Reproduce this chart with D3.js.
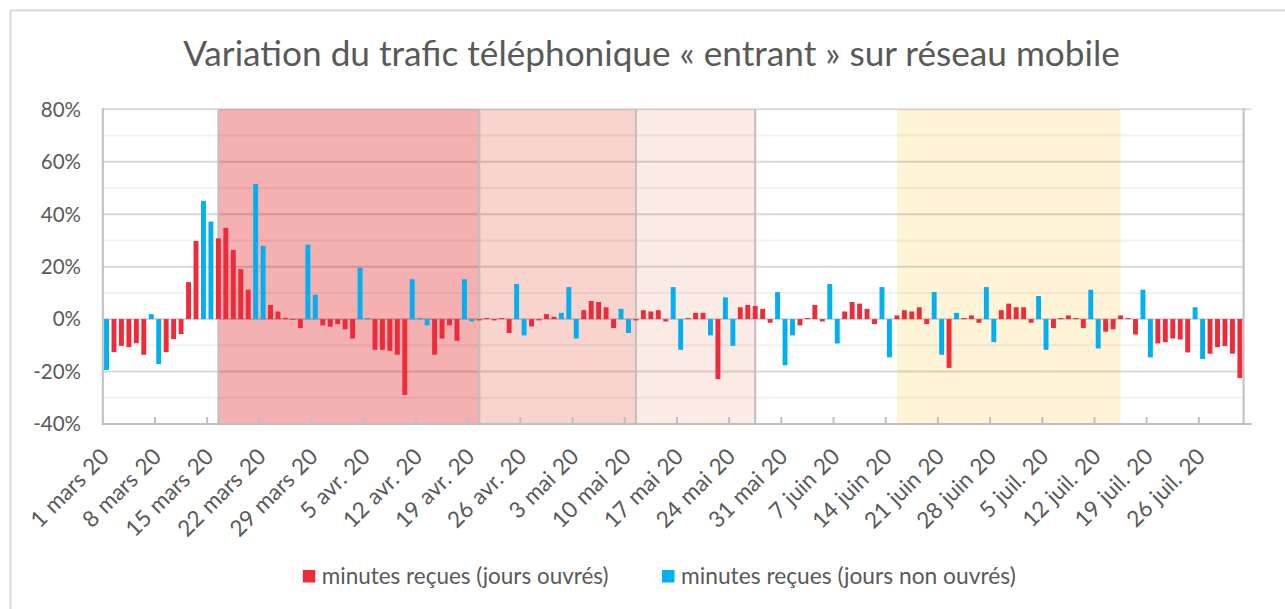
<!DOCTYPE html>
<html><head><meta charset="utf-8">
<script src="https://cdn.jsdelivr.net/npm/d3@7"></script>
<style>
body{margin:0;background:#fff;}
text{font-family:Lato,"Open Sans",sans-serif;fill:#595959;}
</style>
</head><body>
<svg id="chart" width="1285" height="609"></svg>
<script>
// ---- DATA ----
const titleText = "Variation du trafic téléphonique « entrant » sur réseau mobile";
const startDate = "2020-03-01";
const valuesMars = [-19.4,-12.6,-10.2,-10.7,-9.2,-13.6,1.9,-17.1,-12.6,-7.6,
  -5.7,14.1,29.8,45.1,37.2,30.8,34.8,26.4,19.1,11.2,
  51.5,27.9,5.4,2.9,0.5,-0.3,-3.4,28.4,9.3,-2.4,-2.9];
const valuesAvril = [-1.9,-3.9,-7.4,19.6,0.4,-11.7,-11.7,-12.1,-13.6,-28.9,
  15.2,0.4,-2.4,-13.6,-7.4,-2.4,-8.3,15.2,-0.9,-0.5,
  0.4,-0.5,0.4,-5.3,13.4,-6.2,-2.8,-0.5,1.9,0.9];
const valuesMai = [2.4,12.2,-7.4,3.4,6.9,6.5,4.5,-3.4,3.9,-5.3,
  -0.5,3.4,2.9,3.4,-0.9,12.2,-11.7,0.4,2.4,2.4,
  -6.2,-22.9,8.3,-10.2,4.5,5.4,5.0,3.9,-1.4,10.3,-17.6];
const valuesJuin = [-6.2,-2.4,0.4,5.4,-0.9,13.4,-9.3,2.9,6.5,5.9,
  3.9,-1.9,12.2,-14.6,1.4,3.4,2.9,4.5,-1.9,10.3,
  -13.6,-18.6,2.4,0.4,1.4,-1.4,12.2,-8.8,3.4,5.9];
const valuesJuillet = [4.5,4.5,-1.4,8.8,-11.7,-3.4,0.4,1.4,0.4,-3.4,
  11.2,-11.2,-4.8,-3.9,1.4,0.4,-5.9,11.2,-14.6,-9.3,
  -8.8,-7.4,-7.8,-12.7,4.5,-15.2,-13.2,-10.7,-10.3,-13.2,-22.5];
// weekdays counted as non-working, and weekdays shown as working despite holiday
const nonWorkingWeekdays = ["2020-04-13","2020-05-01","2020-05-21","2020-06-01","2020-06-23"];
const workingOverrides = ["2020-05-08","2020-07-14"];
const seriesNames = ["minutes reçues (jours ouvrés)","minutes reçues (jours non ouvrés)"];
const yTicks = [-40,-20,0,20,40,60,80];
const yMinorTicks = [-30,-10,10,30,50,70];
const xTickLabels = ["1 mars 20","8 mars 20","15 mars 20","22 mars 20","29 mars 20","5 avr. 20","12 avr. 20",
  "19 avr. 20","26 avr. 20","3 mai 20","10 mai 20","17 mai 20","24 mai 20","31 mai 20","7 juin 20",
  "14 juin 20","21 juin 20","28 juin 20","5 juil. 20","12 juil. 20","19 juil. 20","26 juil. 20"];
const periodStarts = ["2020-03-16","2020-04-20","2020-05-11","2020-06-15"];
const periodEnds   = ["2020-04-20","2020-05-11","2020-05-27","2020-07-15"];
const periodBorders = ["2020-03-16","2020-04-20","2020-05-11","2020-05-27"];

// ---- STYLE ----
const periodColors = ["#F5B1B1","#F9D3CD","#FBEBE5","#FFF4D8"];
const colWork = "#EE2B3B", colOff = "#00B0F0";
const W = 1285, H = 609;
const plot = {left:102.8, right:1243.6, top:109.3, bottom:424};

const values = [].concat(valuesMars, valuesAvril, valuesMai, valuesJuin, valuesJuillet);
const fmt = d3.utcFormat("%Y-%m-%d");
const parse = d3.utcParse("%Y-%m-%d");
const t0 = parse(startDate);
const data = values.map((v,i)=>{
  const d = d3.utcDay.offset(t0,i);
  const key = fmt(d);
  const dow = d.getUTCDay();
  let off = (dow===0||dow===6||nonWorkingWeekdays.includes(key));
  if (workingOverrides.includes(key)) off = false;
  return {i, key, v, off};
});
const idxOf = s => d3.utcDay.count(t0, parse(s));

const svg = d3.select("#chart");
svg.append("rect").attr("width",W).attr("height",H).attr("fill","#fff");
svg.append("rect").attr("x",10.5).attr("y",10.5).attr("width",1290).attr("height",620)
  .attr("fill","none").attr("stroke","#D9D9D9").attr("stroke-width",2);

const x = d3.scaleBand().domain(data.map(d=>d.i)).range([plot.left,plot.right])
  .paddingInner(0.34).paddingOuter(0.17);
const step = x.step();
const xc = i => x(i) + x.bandwidth()/2;
const y = d3.scaleLinear().domain([-40,80]).range([plot.bottom,plot.top]);

// period shading
const g = svg.append("g");
g.selectAll("rect.period").data(periodStarts).join("rect")
  .attr("x",(s)=>xc(idxOf(s)))
  .attr("width",(s,k)=>xc(idxOf(periodEnds[k]))-xc(idxOf(s)))
  .attr("y",plot.top).attr("height",plot.bottom-plot.top)
  .attr("fill",(s,k)=>periodColors[k]);

// gridlines
g.selectAll("line.minor").data(yMinorTicks).join("line")
  .attr("x1",plot.left).attr("x2",plot.right).attr("y1",d=>y(d)).attr("y2",d=>y(d))
  .attr("stroke","#000").attr("stroke-opacity",0.055).attr("stroke-width",2);
g.selectAll("line.major").data(yTicks.filter(d=>d>-40)).join("line")
  .attr("x1",plot.left).attr("x2",d=>d===80?plot.right+8:plot.right).attr("y1",d=>y(d)).attr("y2",d=>y(d))
  .attr("stroke","#000").attr("stroke-opacity",0.15).attr("stroke-width",2);

// period borders
g.selectAll("line.border").data(periodBorders).join("line")
  .attr("x1",s=>xc(idxOf(s))).attr("x2",s=>xc(idxOf(s)))
  .attr("y1",plot.top).attr("y2",plot.bottom)
  .attr("stroke","#BFBFBF").attr("stroke-width",2);

// bars
g.selectAll("rect.bar").data(data).join("rect")
  .attr("x",d=>x(d.i)).attr("width",x.bandwidth())
  .attr("y",d=>y(Math.max(0,d.v))).attr("height",d=>Math.abs(y(d.v)-y(0)))
  .attr("fill",d=>d.off?colOff:colWork);

// axes lines
const axisCol = "#BFBFBF";
svg.append("line").attr("x1",plot.left).attr("x2",plot.left).attr("y1",plot.top-1).attr("y2",plot.bottom+1)
  .attr("stroke",axisCol).attr("stroke-width",2);
svg.append("line").attr("x1",plot.right).attr("x2",plot.right).attr("y1",plot.top-1).attr("y2",plot.bottom+1)
  .attr("stroke",axisCol).attr("stroke-width",2);
svg.append("line").attr("x1",plot.left-1).attr("x2",plot.right+8).attr("y1",plot.bottom).attr("y2",plot.bottom)
  .attr("stroke",axisCol).attr("stroke-width",2);

// x ticks (weekly, at the left edge of each labelled day)
const labelIdx = xTickLabels.map((s,k)=>k*7);
svg.selectAll("line.xt").data(labelIdx.filter(i=>i>0)).join("line")
  .attr("x1",i=>x(i)-step*x.paddingInner()/2).attr("x2",i=>x(i)-step*x.paddingInner()/2)
  .attr("y1",plot.bottom).attr("y2",plot.bottom-7)
  .attr("stroke",axisCol).attr("stroke-width",2);

// x labels
svg.selectAll("text.xl").data(xTickLabels).join("text")
  .attr("text-anchor","end").attr("font-size",22.5).attr("word-spacing","1px")
  .attr("transform",(s,k)=>`translate(${xc(labelIdx[k])+4},${plot.bottom+34}) rotate(-45)`)
  .text(s=>s);

// y labels
svg.selectAll("text.yl").data(yTicks).join("text")
  .attr("x",81).attr("y",d=>y(d)).attr("dy","0.36em").attr("text-anchor","end")
  .attr("font-size",20.5).text(d=>d+"%");

// title (fit width)
const title = svg.append("text").attr("x",651.5).attr("y",66).attr("text-anchor","middle")
  .attr("font-size",28).text(titleText);
const tw = title.node().getComputedTextLength();
title.attr("font-size",28*937/tw);

// legend
const legX = [302.8, 662], legTxtW = [287, 335];
seriesNames.forEach((n,k)=>{
  svg.append("rect").attr("x",legX[k]).attr("y",570).attr("width",12.5).attr("height",12.5)
    .attr("fill",k===0?colWork:colOff);
  const t = svg.append("text").attr("x",legX[k]+19).attr("y",583.5).attr("font-size",20.5).text(n);
  const w = t.node().getComputedTextLength();
  t.attr("font-size",20.5*legTxtW[k]/w);
});
</script>
</body></html>
